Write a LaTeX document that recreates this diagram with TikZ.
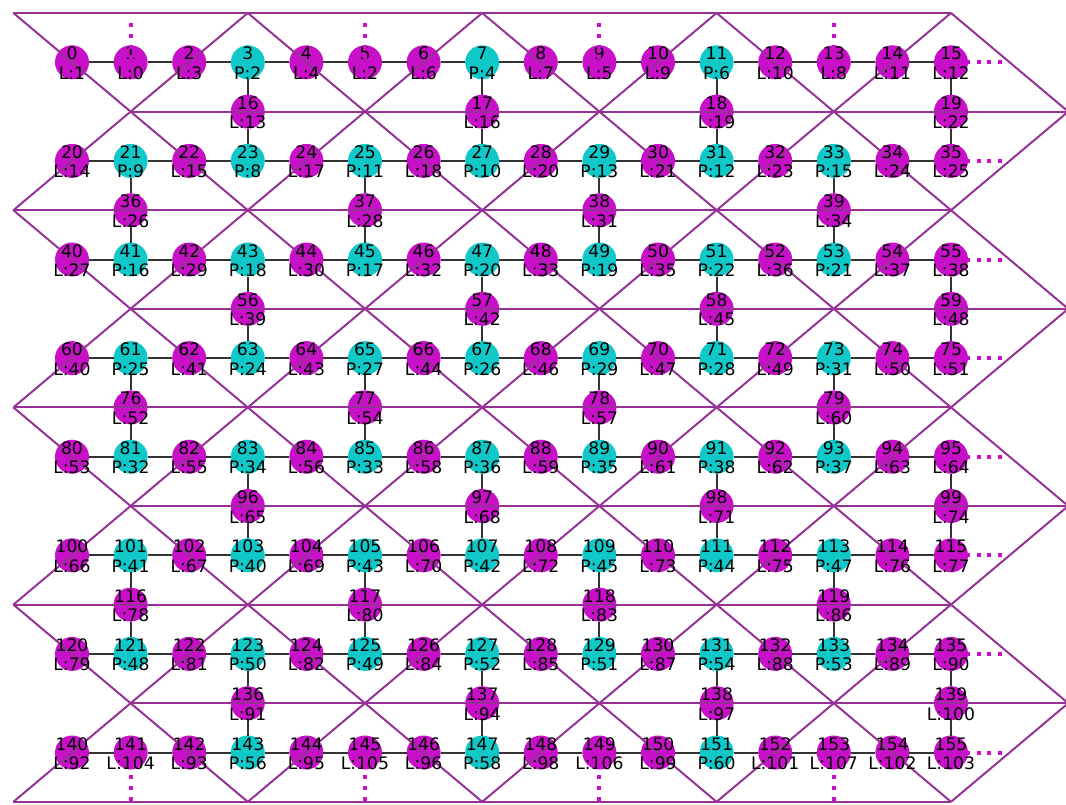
\documentclass[tikz,border=0pt]{standalone}
\usepackage{fontspec}
\setmainfont{DejaVu Sans}
\definecolor{lmag}{RGB}{200,16,200}
\definecolor{pcyan}{RGB}{16,200,200}
\definecolor{latt}{RGB}{150,50,150}
\tikzset{
  Lspot/.style={circle, fill=lmag, minimum size=17pt, inner sep=0pt, outer sep=0pt},
  Pspot/.style={Lspot, fill=pcyan},
  link/.style={line width=1pt, black!80},
  tri/.style={line width=1pt, latt},
  stub/.style={line width=2pt, lmag, dash pattern=on 2pt off 3.3pt},
  idtext/.style={font=\fontsize{8.6}{9}\selectfont, inner sep=0pt, anchor=base},
}
\begin{document}
\begin{tikzpicture}[x=0.5pt, y=-0.5pt]
\useasboundingbox (0,0) rectangle (1066,804);
\foreach \i/\kind/\tagno in {0/L/1,1/L/0,2/L/3,3/P/2,4/L/4,5/L/2,6/L/6,7/P/4,8/L/7,9/L/5,10/L/9,11/P/6,12/L/10,13/L/8,14/L/11,15/L/12,
  16/L/13,17/L/16,18/L/19,19/L/22,
  20/L/14,21/P/9,22/L/15,23/P/8,24/L/17,25/P/11,26/L/18,27/P/10,28/L/20,29/P/13,30/L/21,31/P/12,32/L/23,33/P/15,34/L/24,35/L/25,
  36/L/26,37/L/28,38/L/31,39/L/34,
  40/L/27,41/P/16,42/L/29,43/P/18,44/L/30,45/P/17,46/L/32,47/P/20,48/L/33,49/P/19,50/L/35,51/P/22,52/L/36,53/P/21,54/L/37,55/L/38,
  56/L/39,57/L/42,58/L/45,59/L/48,
  60/L/40,61/P/25,62/L/41,63/P/24,64/L/43,65/P/27,66/L/44,67/P/26,68/L/46,69/P/29,70/L/47,71/P/28,72/L/49,73/P/31,74/L/50,75/L/51,
  76/L/52,77/L/54,78/L/57,79/L/60,
  80/L/53,81/P/32,82/L/55,83/P/34,84/L/56,85/P/33,86/L/58,87/P/36,88/L/59,89/P/35,90/L/61,91/P/38,92/L/62,93/P/37,94/L/63,95/L/64,
  96/L/65,97/L/68,98/L/71,99/L/74,
  100/L/66,101/P/41,102/L/67,103/P/40,104/L/69,105/P/43,106/L/70,107/P/42,108/L/72,109/P/45,110/L/73,111/P/44,112/L/75,113/P/47,114/L/76,115/L/77,
  116/L/78,117/L/80,118/L/83,119/L/86,
  120/L/79,121/P/48,122/L/81,123/P/50,124/L/82,125/P/49,126/L/84,127/P/52,128/L/85,129/P/51,130/L/87,131/P/54,132/L/88,133/P/53,134/L/89,135/L/90,
  136/L/91,137/L/94,138/L/97,139/L/100,
  140/L/92,141/L/104,142/L/93,143/P/56,144/L/95,145/L/105,146/L/96,147/P/58,148/L/98,149/L/106,150/L/99,151/P/60,152/L/101,153/L/107,154/L/102,155/L/103}{
  \pgfmathtruncatemacro\prow{\i/20}
  \pgfmathtruncatemacro\pos{mod(\i,20)}
  \ifnum\pos<16
    \pgfmathsetmacro\px{72+58.6*\pos}
    \pgfmathsetmacro\py{62.3+98.6*\prow}
  \else
    \pgfmathsetmacro\px{72+58.6*(4*(\pos-16)+3-2*mod(\prow,2))}
    \pgfmathsetmacro\py{111.6+98.6*\prow}
  \fi
  \node[\kind spot] (n\i) at (\px,\py) {};
  \global\expandafter\let\csname tag\i\endcsname\relax
  \expandafter\xdef\csname tag\i\endcsname{\kind:\tagno}
}
\foreach \prow in {0,...,7}
  \foreach \col in {0,...,14}{
    \pgfmathtruncatemacro\qa{20*\prow+\col}
    \pgfmathtruncatemacro\qb{\qa+1}
    \draw[link] (n\qa) -- (n\qb);
  }
\foreach \prow in {0,...,6}
  \foreach \jj in {0,...,3}{
    \pgfmathtruncatemacro\qm{20*\prow+16+\jj}
    \pgfmathtruncatemacro\qtop{20*\prow+4*\jj+3-2*mod(\prow,2)}
    \pgfmathtruncatemacro\qbot{\qtop+20}
    \draw[link] (n\qtop) -- (n\qm) -- (n\qbot);
  }
\foreach \lrow in {0,...,8}{
  \pgfmathsetmacro\ly{13+98.6*\lrow}
  \pgfmathsetmacro\lx{72+58.6*(-1+2*mod(\lrow,2))}
  \draw[tri] (\lx,\ly) -- ++(937.6,0);
}
\foreach \lrow in {0,...,7}
  \foreach \jj in {0,...,4}{
    \pgfmathtruncatemacro\col{4*\jj-1+2*mod(\lrow,2)}
    \pgfmathsetmacro\vx{72+58.6*\col}
    \pgfmathsetmacro\vy{13+98.6*\lrow}
    \ifnum\col>0 \draw[tri] (\vx,\vy) -- ++(-117.2,98.6); \fi
    \ifnum\col<16 \draw[tri] (\vx,\vy) -- ++(117.2,98.6); \fi
  }
\foreach \i in {0,...,155}{
  \node[idtext] (a\i) at ([yshift=1.25pt]n\i.center) {\i};
  \node[idtext] (b\i) at ([yshift=-8.5pt]n\i.center) {\csname tag\i\endcsname};
}
\foreach \i in {1,5,9,13}
  \draw[stub] ([yshift=19.5pt]n\i.center) -- (n\i.center);
\foreach \i in {15,35,...,155}
  \draw[stub] ([xshift=25.5pt]n\i.center) -- (n\i.center);
\foreach \i in {141,145,149,153}
  \draw[stub] ([yshift=-24pt]n\i.center) -- (n\i.center);
\end{tikzpicture}
\end{document}
